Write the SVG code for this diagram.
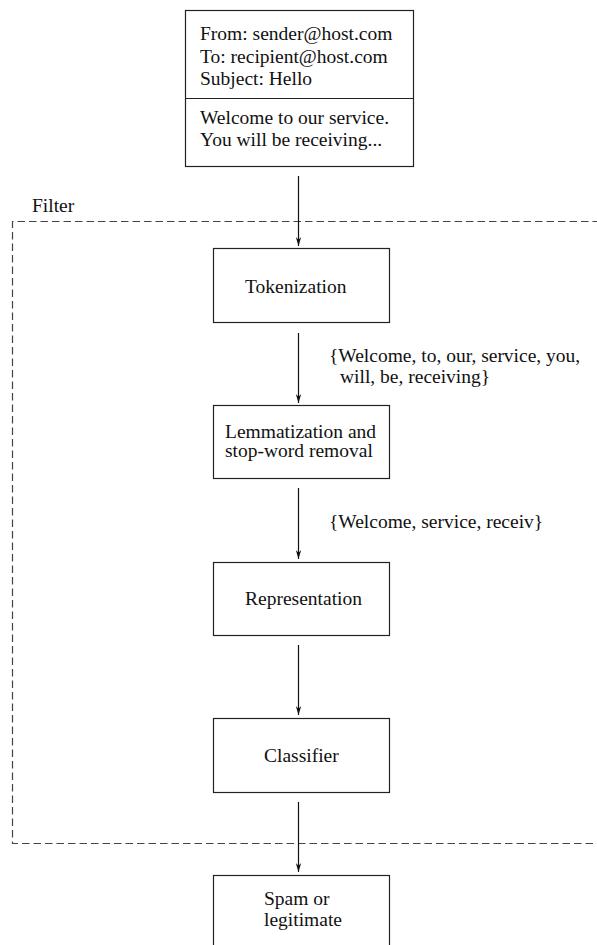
<svg xmlns="http://www.w3.org/2000/svg" width="597" height="945" viewBox="0 0 597 945">
<defs>
<style>
text{font-family:"Liberation Serif","Times New Roman",serif;font-size:19.5px;fill:#111}
.box{fill:#fff;stroke:#222;stroke-width:1.2}
.conn{stroke:#111;stroke-width:1.2;fill:none;marker-end:url(#ah)}
.dash{fill:none;stroke:#444;stroke-width:1.2;stroke-dasharray:7.5 4}
</style>
<marker id="ah" viewBox="0 0 10 10" refX="10" refY="5" markerWidth="9" markerHeight="9" markerUnits="userSpaceOnUse" orient="auto">
<path d="M0,2 L10,5 L0,8 L3,5 Z" fill="#111"/>
</marker>
</defs>
<g id="filter">
<path class="dash" d="M600,221.5 H12.5 V843.5 H600"/>
<text x="32" y="212">Filter</text>
</g>
<g id="email">
<rect class="box" x="185.5" y="10.5" width="228" height="156"/>
<line x1="185.5" y1="98.5" x2="413.5" y2="98.5" stroke="#222" stroke-width="1.2"/>
<text x="200" y="40">From: sender@host.com</text>
<text x="200" y="63">To: recipient@host.com</text>
<text x="200" y="85">Subject: Hello</text>
<text x="200" y="124">Welcome to our service.</text>
<text x="200" y="146">You will be receiving...</text>
</g>
<g id="tokenization">
<rect class="box" x="213.5" y="248.5" width="176" height="74"/>
<text x="245" y="293">Tokenization</text>
</g>
<g id="lemmatization">
<rect class="box" x="213.5" y="405.5" width="176" height="73"/>
<text x="225" y="438">Lemmatization and</text>
<text x="225" y="457">stop-word removal</text>
</g>
<g id="representation">
<rect class="box" x="213.5" y="562.5" width="176" height="73"/>
<text x="245" y="605">Representation</text>
</g>
<g id="classifier">
<rect class="box" x="213.5" y="718.5" width="176" height="74"/>
<text x="264" y="762">Classifier</text>
</g>
<g id="result">
<rect class="box" x="213.5" y="875.5" width="176" height="90"/>
<text x="264" y="905">Spam or</text>
<text x="264" y="926">legitimate</text>
</g>
<g id="connectors">
<line class="conn" x1="298.5" y1="176" x2="298.5" y2="246"/>
<line class="conn" x1="298.5" y1="333" x2="298.5" y2="403"/>
<line class="conn" x1="298.5" y1="488" x2="298.5" y2="559"/>
<line class="conn" x1="298.5" y1="645" x2="298.5" y2="715"/>
<line class="conn" x1="298.5" y1="802" x2="298.5" y2="872"/>
<text x="329" y="362">{Welcome, to, our, service, you,</text>
<text x="340" y="383">will, be, receiving}</text>
<text x="329" y="528">{Welcome, service, receiv}</text>
</g>
</svg>
